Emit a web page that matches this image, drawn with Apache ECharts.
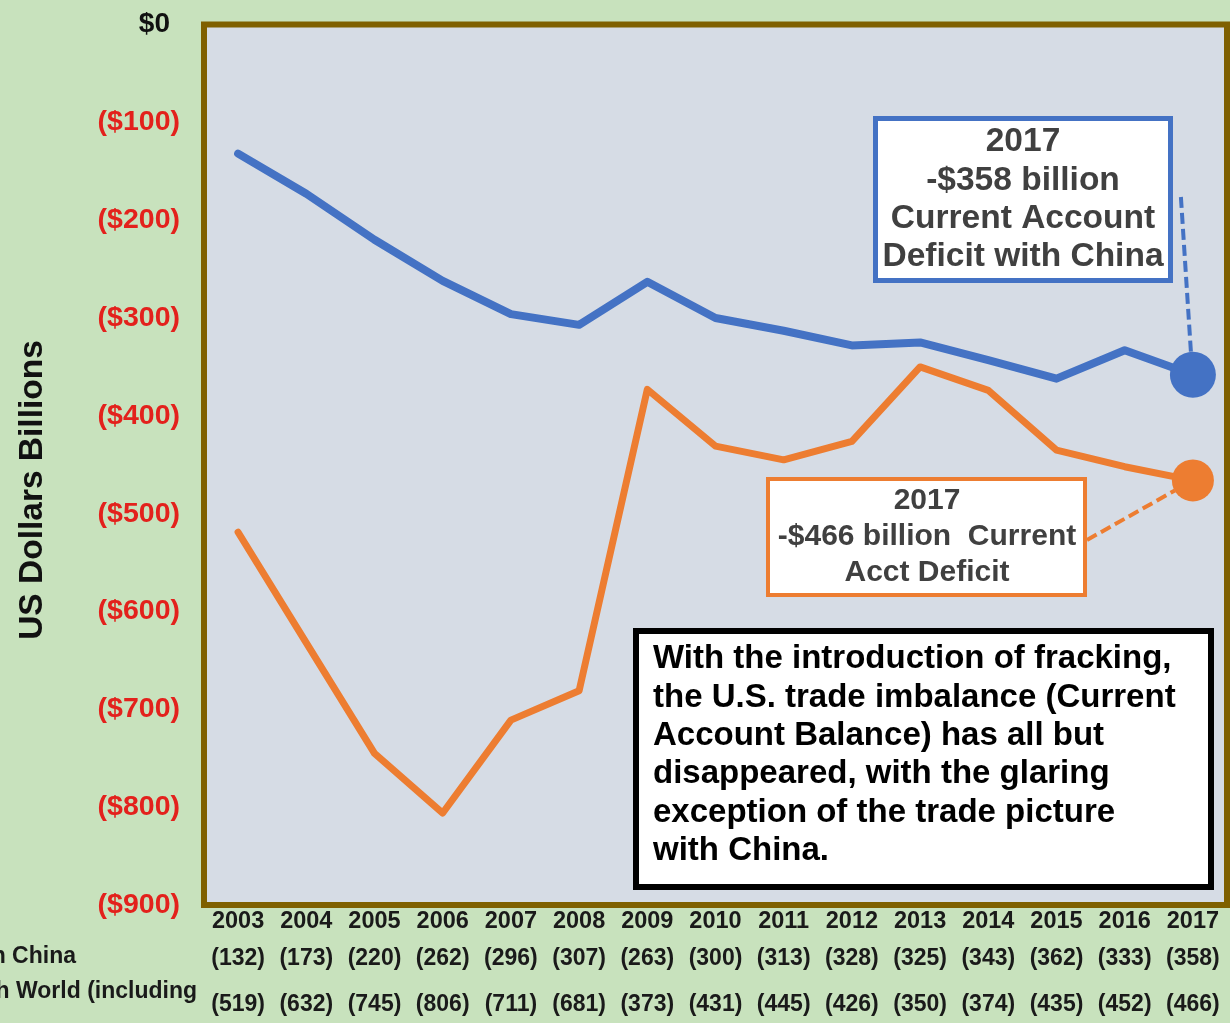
<!DOCTYPE html>
<html>
<head>
<meta charset="utf-8">
<script src="https://cdn.jsdelivr.net/npm/echarts@6/dist/echarts.min.js"></script>
<style>
  html, body { margin: 0; padding: 0; background: #c8e2bd; }
  #chart { width: 1230px; height: 1023px; }
</style>
</head>
<body>
<div id="chart"></div>
<script>
// US current account balance, billions of dollars (deficits shown as positive numbers in the table)
const years = ['2003','2004','2005','2006','2007','2008','2009','2010','2011','2012','2013','2014','2015','2016','2017'];
const chinaDeficit = [132, 173, 220, 262, 296, 307, 263, 300, 313, 328, 325, 343, 362, 333, 358];
const worldDeficit = [519, 632, 745, 806, 711, 681, 373, 431, 445, 426, 350, 374, 435, 452, 466];
const yTicks = [0, -100, -200, -300, -400, -500, -600, -700, -800, -900];

const FONT = '"Liberation Sans", Arial, sans-serif';
const BLUE = '#4472c4';
const ORANGE = '#ed7d31';
const last = years.length - 1;

function lineData(values, size) {
  return values.map((v, i) => i === last
    ? { value: -v, symbol: 'circle', symbolSize: size }
    : -v);
}

function tableAxis(values, offset) {
  return {
    type: 'category', gridIndex: 0, position: 'bottom', offset: offset,
    data: years, boundaryGap: true,
    axisLine: { show: false }, axisTick: { show: false },
    axisLabel: {
      interval: 0, margin: 6,
      fontFamily: FONT, fontWeight: 'bold', fontSize: 23, color: '#1a1a1a',
      formatter: (val, idx) => '(' + values[idx] + ')'
    }
  };
}

const chart = echarts.init(document.getElementById('chart'), null, { renderer: 'canvas' });

chart.setOption({
  animation: false,
  backgroundColor: '#c8e2bd',
  grid: {
    left: 204, right: 3, top: 24.5, bottom: 118,
    show: true, backgroundColor: '#d6dce5',
    borderColor: '#7f6000', borderWidth: 6
  },
  xAxis: [
    {
      type: 'category', data: years, boundaryGap: true, position: 'bottom',
      axisLine: { show: false },
      axisTick: { show: false },
      axisLabel: {
        interval: 0, margin: 5,
        fontFamily: FONT, fontWeight: 'bold', fontSize: 23.5, color: '#1a1a1a'
      }
    },
    tableAxis(chinaDeficit, 36),
    tableAxis(worldDeficit, 82)
  ],
  yAxis: {
    type: 'value', min: -900, max: 0, interval: 100,
    axisLine: { show: false }, axisTick: { show: false }, splitLine: { show: false },
    axisLabel: {
      margin: 24,
      formatter: v => v === 0 ? '{k|$0}' : '{r|($' + (-v) + ')}',
      rich: {
        k: { fontFamily: FONT, fontWeight: 'bold', fontSize: 28, color: '#111', padding: [0, 10, 0, 0] },
        r: { fontFamily: FONT, fontWeight: 'bold', fontSize: 28.5, color: '#e3211c' }
      }
    }
  },
  series: [
    {
      name: 'China', type: 'line', xAxisIndex: 0, yAxisIndex: 0,
      data: lineData(chinaDeficit, 46),
      symbol: 'circle', symbolSize: 0, showSymbol: true, showAllSymbol: true,
      itemStyle: { color: BLUE },
      lineStyle: { color: BLUE, width: 8, cap: 'round', join: 'round' },
      z: 3
    },
    {
      name: 'World', type: 'line', xAxisIndex: 0, yAxisIndex: 0,
      data: lineData(worldDeficit, 42),
      symbol: 'circle', symbolSize: 0, showSymbol: true, showAllSymbol: true,
      itemStyle: { color: ORANGE },
      lineStyle: { color: ORANGE, width: 7, cap: 'round', join: 'round' },
      z: 2
    }
  ]
});

// Anchor the leader lines on the 2017 end markers
const pBlue = chart.convertToPixel({ xAxisIndex: 0, yAxisIndex: 0 }, [last, -chinaDeficit[last]]);
const pOrange = chart.convertToPixel({ xAxisIndex: 0, yAxisIndex: 0 }, [last, -worldDeficit[last]]);

const boxText = (x, y, text, size, color) => ({
  type: 'text', x: x, y: y, z: 12,
  style: { text: text, font: 'bold ' + size + 'px ' + FONT, fill: color, align: 'center', verticalAlign: 'middle' }
});

chart.setOption({
  graphic: {
    elements: [
      // axis title
      {
        type: 'text', x: 33, y: 490, rotation: Math.PI / 2,
        style: { text: 'US Dollars Billions', font: 'bold 33.5px ' + FONT, fill: '#111', align: 'center', verticalAlign: 'middle' }
      },
      // data table row headers
      {
        type: 'text', x: 76, y: 957,
        style: { text: 'Balance with China', font: 'bold 23px ' + FONT, fill: '#1a1a1a', align: 'right', verticalAlign: 'middle' }
      },
      {
        type: 'text', x: 197, y: 992,
        style: { text: 'Balance with World (including', font: 'bold 23px ' + FONT, fill: '#1a1a1a', align: 'right', verticalAlign: 'middle' }
      },

      // China call-out
      {
        type: 'line', z: 11,
        shape: { x1: pBlue[0] - 12, y1: 197, x2: pBlue[0] - 2, y2: pBlue[1] - 23 },
        style: { stroke: BLUE, lineWidth: 4, lineDash: [11, 5] }
      },
      {
        type: 'rect', z: 11,
        shape: { x: 875.5, y: 118.5, width: 295, height: 162 },
        style: { fill: '#ffffff', stroke: BLUE, lineWidth: 5 }
      },
      boxText(1023, 142, '2017', 33.5, '#404040'),
      boxText(1023, 181, '-$358 billion', 33.5, '#404040'),
      boxText(1023, 219, 'Current Account', 33.5, '#404040'),
      boxText(1023, 257, 'Deficit with China', 33.5, '#404040'),

      // World call-out
      {
        type: 'line', z: 11,
        shape: { x1: 1087, y1: 540, x2: pOrange[0] - 18, y2: pOrange[1] + 10 },
        style: { stroke: ORANGE, lineWidth: 4, lineDash: [11, 5] }
      },
      {
        type: 'rect', z: 11,
        shape: { x: 768, y: 479, width: 317, height: 116 },
        style: { fill: '#ffffff', stroke: ORANGE, lineWidth: 4 }
      },
      boxText(927, 501, '2017', 30, '#404040'),
      boxText(927, 537, '-$466 billion  Current', 30, '#404040'),
      boxText(927, 573, 'Acct Deficit', 30, '#404040'),

      // commentary box
      {
        type: 'rect', z: 11,
        shape: { x: 636, y: 631, width: 575, height: 256 },
        style: { fill: '#ffffff', stroke: '#000000', lineWidth: 6 }
      },
      {
        type: 'text', x: 653, y: 640, z: 12,
        style: {
          text: 'With the introduction of fracking,\nthe U.S. trade imbalance (Current\nAccount Balance) has all but\ndisappeared, with the glaring\nexception of the trade picture\nwith China.',
          font: 'bold 33px ' + FONT, fill: '#000000', align: 'left', verticalAlign: 'top', lineHeight: 38.4
        }
      }
    ]
  }
});
</script>
</body>
</html>
